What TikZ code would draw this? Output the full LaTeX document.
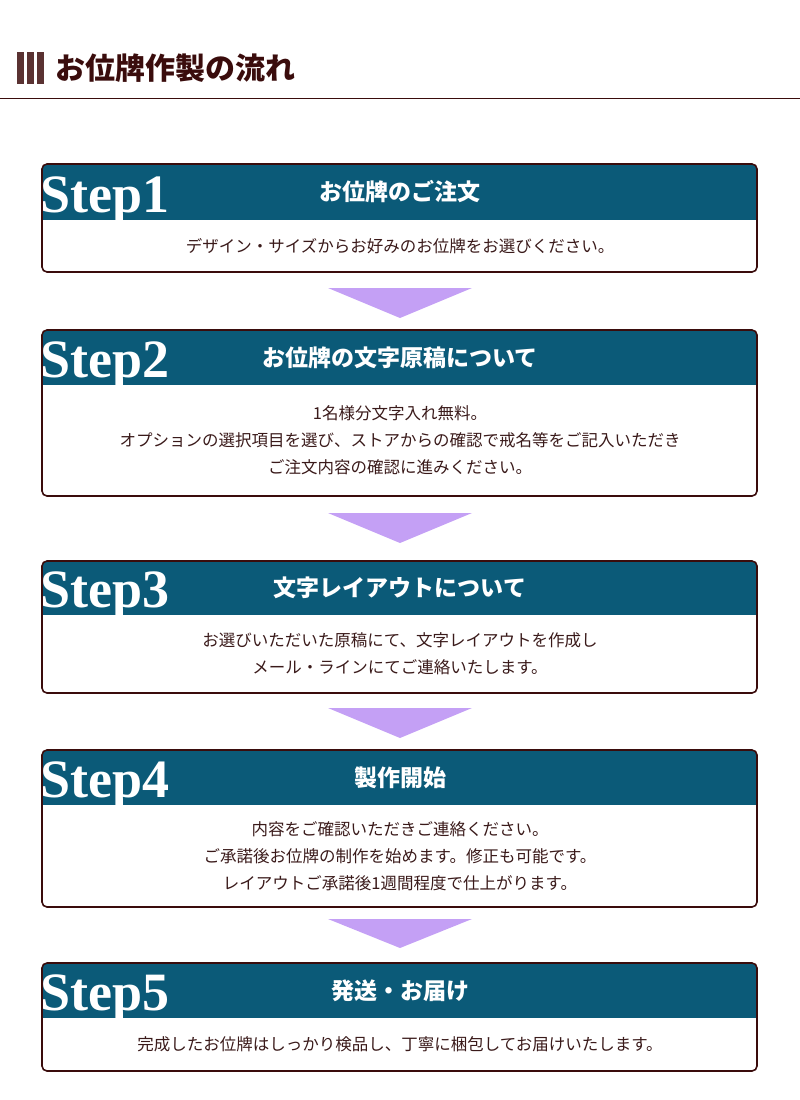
\documentclass[tikz,border=0pt]{standalone}
\usepackage{fontspec}
\setmainfont{Liberation Serif}
\newfontfamily\jpfont{Noto Sans CJK JP}
\usetikzlibrary{positioning}
\definecolor{band}{HTML}{0B5A78}
\definecolor{brownline}{HTML}{3A0C0C}
\definecolor{bodytext}{HTML}{3A1A1A}
\definecolor{arrowfill}{HTML}{C4A0F5}
\definecolor{barbrown}{HTML}{5A3232}
\tikzset{
    stepframe/.style={draw=brownline, line width=1.6pt, rounded corners=5pt}, % 枠
    steplabel/.style={anchor=base west, text=white, inner sep=0pt, font=\fontsize{54}{54}\selectfont\bfseries},
    steptitle/.style={text=white, font=\jpfont\bfseries\fontsize{23}{23}\selectfont},
    stepbody/.style={text=bodytext, align=center, font=\jpfont\fontsize{16.5}{27}\selectfont}
}
% 1ステップ分: #1=名前 #2=上 #3=帯下 #4=下 #5=番号 #6=見出し #7=本文
\newcommand{\stepblock}[7]{
    \begin{scope}
        \clip[rounded corners=5pt] (42,#2) rectangle (757,#4);
        \fill[band] (42,#2) rectangle (757,#3);
    \end{scope}
    \node[steplabel] (#1lab) at (40,#3-8) {Step#5};
    \node[steptitle] (#1tit) at (400,{(#2+#3)/2}) {#6};
    \node[stepbody] (#1txt) at (400,{(#3+#4)/2}) {#7};
    \draw[stepframe] (42,#2) rectangle (757,#4);
}
\newcommand{\steparrow}[2]{\fill[arrowfill] (328,#1) -- (472,#1) -- (400,#2) -- cycle;}

\begin{document}
\begin{tikzpicture}[x=1pt, y=-1pt]
    \useasboundingbox (0,0) rectangle (800,1100);
    \foreach \i in {0,1,2} {\fill[barbrown] (17+\i*10,52) rectangle (23.5+\i*10,84);}
    \node[anchor=west, text=brownline, font=\jpfont\bfseries\fontsize{30}{30}\selectfont] (head) at (52,68) {お位牌作製の流れ};
    \draw[brownline, line width=1pt] (0,98) -- (800,98);

    \stepblock{s1}{164}{220}{272}{1}{お位牌のご注文}{デザイン・サイズからお好みのお位牌をお選びください。}
    \steparrow{288}{318}
    \stepblock{s2}{330}{385}{496}{2}{お位牌の文字原稿について}{1名様分文字入れ無料。\\オプションの選択項目を選び、ストアからの確認で戒名等をご記入いただき\\ご注文内容の確認に進みください。}
    \steparrow{513}{543}
    \stepblock{s3}{561}{615}{693}{3}{文字レイアウトについて}{お選びいただいた原稿にて、文字レイアウトを作成し\\メール・ラインにてご連絡いたします。}
    \steparrow{708}{738}
    \stepblock{s4}{750}{805}{907}{4}{製作開始}{内容をご確認いただきご連絡ください。\\ご承諾後お位牌の制作を始めます。修正も可能です。\\レイアウトご承諾後1週間程度で仕上がります。}
    \steparrow{919}{948}
    \stepblock{s5}{963}{1018}{1071}{5}{発送・お届け}{完成したお位牌はしっかり検品し、丁寧に梱包してお届けいたします。}
\end{tikzpicture}
\end{document}
